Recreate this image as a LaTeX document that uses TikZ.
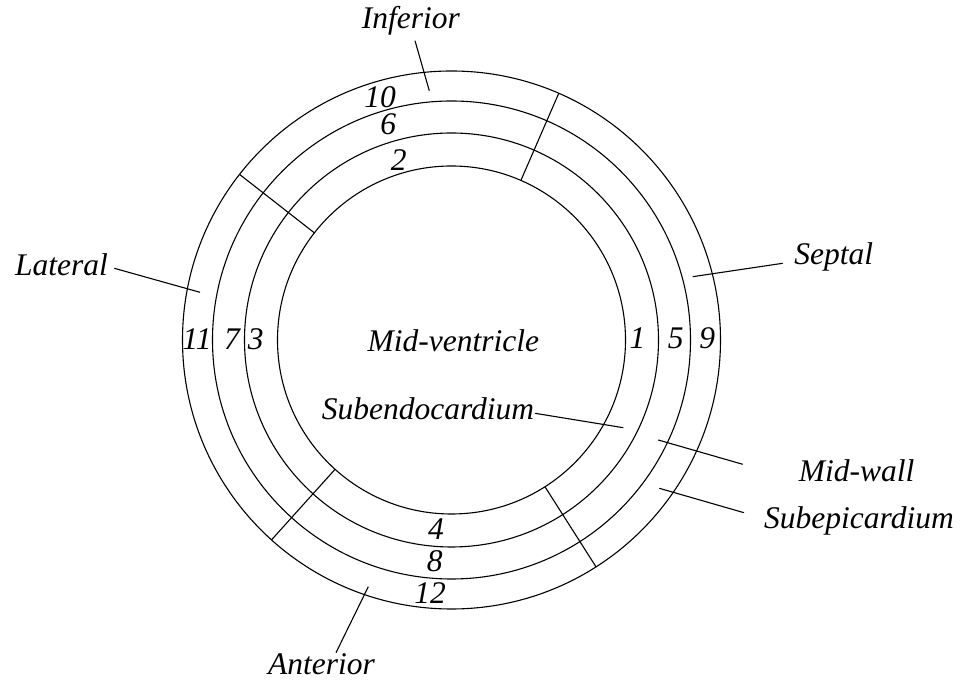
\documentclass[tikz,border=0pt]{standalone}
\usepackage{fontspec}
\setmainfont{Liberation Serif}
\usetikzlibrary{calc}
\begin{document}
\begin{tikzpicture}[x=0.5pt,y=0.5pt,line width=0.55pt,
  lbl/.style={inner sep=0pt,anchor=base,font=\fontsize{15.75}{18}\selectfont\itshape},
  ring/.style={draw=black},
  lead/.style={draw=black}]
\useasboundingbox (0,0) rectangle (960,680);
\coordinate (c) at (451.5,340);
% rings
\draw[ring] (c) circle[radius=174];
\draw[ring] (c) circle[radius=207];
\draw[ring] (c) circle[radius=239];
\draw[ring] (c) circle[radius=269];
% dividers
\foreach \a/\n in {66.5/d1,142/d2,-132/d3,-57.5/d4}{
  \coordinate (\n i) at ($(c)+(\a:174)$);
  \coordinate (\n o) at ($(c)+(\a:269)$);
  \draw (\n i) -- (\n o);
}
% segment numbers
\node[lbl] (n1) at (637.5,331) {1};
\node[lbl] (n5) at (675.8,331) {5};
\node[lbl] (n9) at (707.2,331) {9};
\node[lbl] (n3) at (255.8,330) {3};
\node[lbl] (n7) at (232,330) {7};
\node[lbl] (n11) at (197,330) {11};
\node[lbl] (n10) at (380,572.7) {10};
\node[lbl] (n6) at (388.3,545.7) {6};
\node[lbl] (n2) at (398.8,509.3) {2};
\node[lbl] (n4) at (436,140) {4};
\node[lbl] (n8) at (434.7,108.3) {8};
\node[lbl] (n12) at (430,76) {12};
% labels
\node[lbl] (inf) at (410.8,651) {Inferior};
\node[lbl] (lat) at (61.5,404) {Lateral};
\node[lbl] (sep) at (833.8,415.7) {Septal};
\node[lbl] (mv) at (453.3,328.3) {Mid-ventricle};
\node[lbl] (sendo) at (428,260) {Subendocardium};
\node[lbl] (mw) at (856.7,198.3) {Mid-wall};
\node[lbl] (sepi) at (859,151) {Subepicardium};
\node[lbl] (ant) at (321.5,5) {Anterior};
% leader lines
\coordinate (infA) at (415,639.3);   \coordinate (infB) at (429.3,589.3);
\coordinate (latA) at (114.3,411.7); \coordinate (latB) at (200,387.7);
\coordinate (sepA) at (782.7,416.7); \coordinate (sepB) at (692.7,403.3);
\coordinate (seA) at (535,266.7);    \coordinate (seB) at (623.3,252.3);
\coordinate (mwA) at (742.7,215.7);  \coordinate (mwB) at (658.3,240);
\coordinate (spA) at (744,167.3);    \coordinate (spB) at (659.3,191.7);
\coordinate (antA) at (336,27.3);    \coordinate (antB) at (368.3,93.3);
\draw[lead] (infA) -- (infB);
\draw[lead] (latA) -- (latB);
\draw[lead] (sepA) -- (sepB);
\draw[lead] (seA) -- (seB);
\draw[lead] (mwA) -- (mwB);
\draw[lead] (spA) -- (spB);
\draw[lead] (antA) -- (antB);
\end{tikzpicture}
\end{document}
